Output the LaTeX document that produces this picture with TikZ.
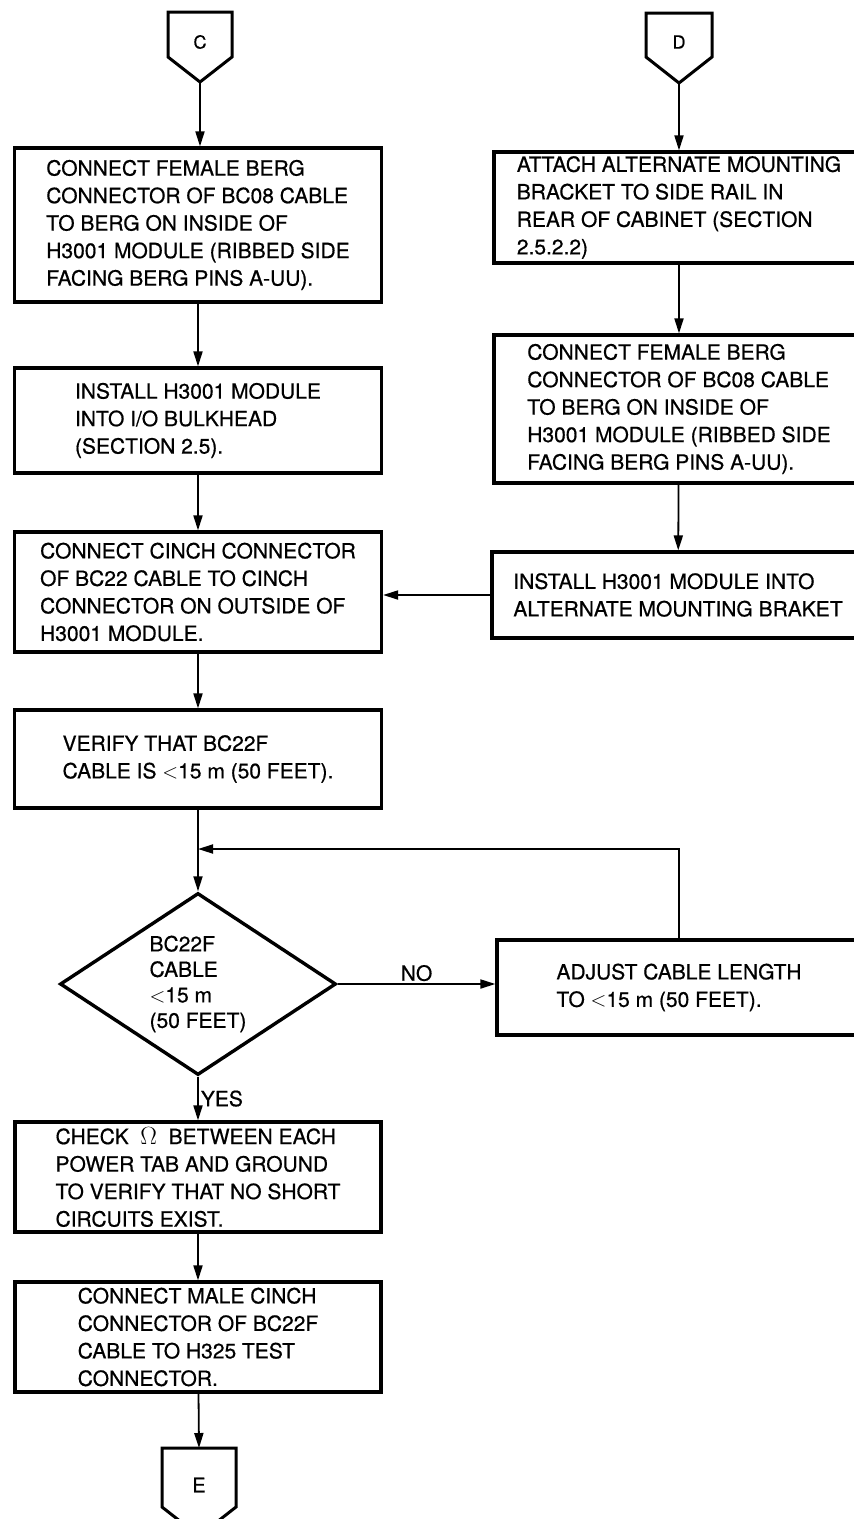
\documentclass[tikz,border=0pt]{standalone}
\usepackage{fontspec}
\setmainfont{TeX Gyre Heros}[FakeBold=0.6]
\usetikzlibrary{positioning,arrows.meta,shapes.geometric,calc}
\tikzset{
	chart/.style={x=1pt,y=-1pt,>={Triangle[length=15pt,width=9pt]},line width=1.8pt},
	stepbox/.style={rectangle,draw,line width=3.2pt,align=left,inner sep=0pt,
		font=\fontsize{21}{27.5}\selectfont},
	decision/.style={diamond,draw,line width=3.4pt,aspect=1.5,align=left,inner sep=0pt,
		minimum width=276pt,minimum height=182pt,font=\fontsize{21}{25.5}\selectfont},
	offpage/.style={inner sep=0pt,font=\fontsize{18}{18}\selectfont},
	pentline/.style={line width=3pt,line join=miter},
	tag/.style={inner sep=2pt,font=\fontsize{21}{24}\selectfont}
}
\newcommand{\lt}{$<$}

\begin{document}
\begin{tikzpicture}[chart]
	\useasboundingbox (0,0) rectangle (854,1519);
	
	% off-page connectors
	\node[offpage] (C) at (200,42) {C};
	\draw[pentline] ($(C)+(-32,-30)$) -- ++(64,0) -- ++(0,45) -- ++(-32,25) coordinate (Ctip) -- ++(-32,-25) -- cycle;
	\node[offpage] (D) at (679,42) {D};
	\draw[pentline] ($(D)+(-33,-29)$) -- ++(66,0) -- ++(0,44) -- ++(-33,26) coordinate (Dtip) -- ++(-33,-26) -- cycle;
	\node[offpage,font=\fontsize{20}{20}\selectfont] (E) at (199,1485) {E};
	\draw[pentline] ($(E)+(-37,-37)$) coordinate (Etop) -- ++(74,0) -- ++(0,59) -- ++(-37,29) -- ++(-37,-29) -- cycle;
	
	% left column
	\node[stepbox,minimum width=367pt,minimum height=154pt] (berg) at (198,225)
		{CONNECT FEMALE BERG\\CONNECTOR OF BC08 CABLE\\TO BERG ON INSIDE OF\\H3001 MODULE (RIBBED SIDE\\FACING BERG PINS A-UU).};
	\node[stepbox,minimum width=367pt,minimum height=105pt] (bulk) at (198,420.5)
		{INSTALL H3001 MODULE\\INTO I/O BULKHEAD\\(SECTION 2.5).};
	\node[stepbox,minimum width=367pt,minimum height=120pt] (cinch) at (198,592)
		{CONNECT CINCH CONNECTOR\\OF BC22 CABLE TO CINCH\\CONNECTOR ON OUTSIDE OF\\H3001 MODULE.};
	\node[stepbox,minimum width=367pt,minimum height=98pt] (verify) at (198,759)
		{VERIFY THAT BC22F\\CABLE IS \lt15 m (50 FEET).};
	\node[decision] (len) at (198,984) {BC22F\\CABLE\\\lt15 m\\(50 FEET)};
	\node[stepbox,minimum width=366pt,minimum height=110pt] (ohm) at (198,1177)
		{CHECK \ {\fontsize{27}{27.5}\selectfont$\Omega$} \ BETWEEN EACH\\POWER TAB AND GROUND\\TO VERIFY THAT NO SHORT\\CIRCUITS EXIST.};
	\node[stepbox,minimum width=366pt,minimum height=110pt] (male) at (198,1337)
		{CONNECT MALE CINCH\\CONNECTOR OF BC22F\\CABLE TO H325 TEST\\CONNECTOR.};
	
	% right column
	\node[stepbox,minimum width=370pt,minimum height=111pt] (bracket) at (679,207.5)
		{ATTACH ALTERNATE MOUNTING\\BRACKET TO SIDE RAIL IN\\REAR OF CABINET (SECTION\\2.5.2.2)};
	\node[stepbox,minimum width=370pt,minimum height=148pt] (berg2) at (679,409)
		{CONNECT FEMALE BERG\\CONNECTOR OF BC08 CABLE\\TO BERG ON INSIDE OF\\H3001 MODULE (RIBBED SIDE\\FACING BERG PINS A-UU).};
	\node[stepbox,minimum width=372pt,minimum height=86pt] (alt) at (678,595)
		{INSTALL H3001 MODULE INTO\\ALTERNATE MOUNTING BRAKET};
	\node[stepbox,minimum width=364pt,minimum height=95pt] (adjust) at (679,987.5)
		{ADJUST CABLE LENGTH\\TO \lt15 m (50 FEET).};
	
	\coordinate (join) at (198,849);
	
	% connectors
	\draw[->] (Ctip) -- (berg.north -| Ctip);
	\draw[->] (berg) -- (bulk);
	\draw[->] (bulk) -- (cinch);
	\draw[->] (cinch) -- (verify);
	\draw[->] (verify) -- (len);
	\draw[->] (len) -- node[tag,midway,right] {YES} (ohm);
	\draw[->] (ohm) -- (male);
	\draw[->] (male) -- (E.center |- Etop);
	\draw[->] (Dtip) -- (bracket);
	\draw[->] (bracket) -- (berg2);
	\draw[->] (berg2) -- (alt);
	\draw[->] (alt.west) -- (alt.west -| cinch.east);
	\draw[->] (len.east) -- node[tag,midway,above] {NO} (len.east -| adjust.west);
	\draw[->] (adjust.north) |- (join);
	
\end{tikzpicture}
\end{document}
